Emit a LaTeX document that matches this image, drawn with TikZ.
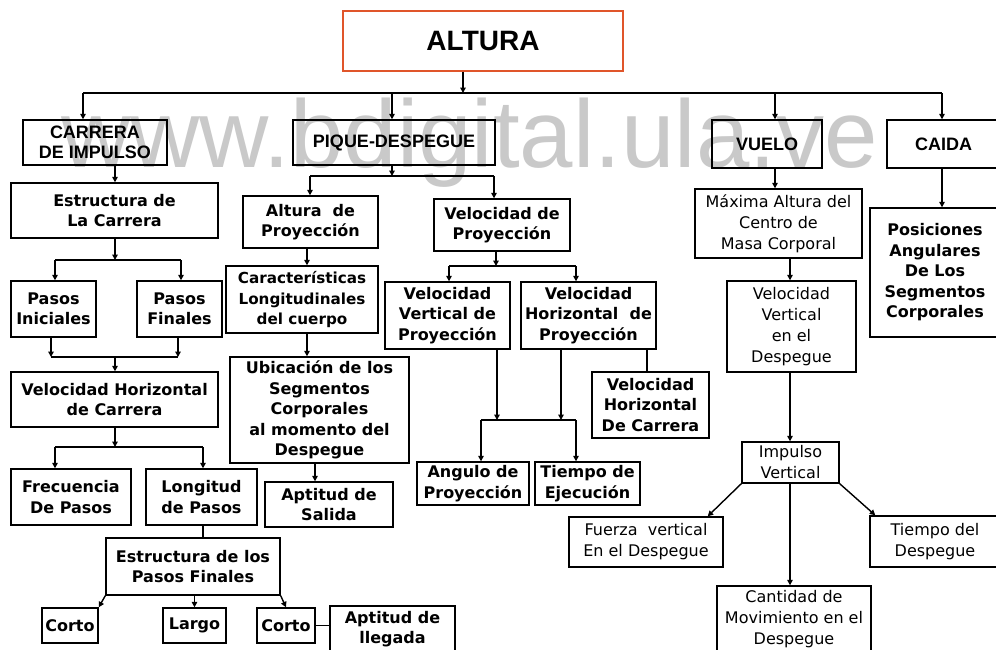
\documentclass[tikz,border=0pt]{standalone}
\usepackage{fontspec}
\usetikzlibrary{arrows.meta,calc}
\newfontfamily\dvsans{DejaVu Sans}
\newfontfamily\lsans{Liberation Sans}
\definecolor{titleedge}{HTML}{E0552A}
\tikzset{
  box/.style={draw=black, line width=1.4pt, inner sep=0pt, align=center, text=black},
  boldbox/.style={box, font=\dvsans\bfseries\fontsize{16}{20.5}\selectfont},
  plainbox/.style={box, font=\dvsans\fontsize{16}{21}\selectfont},
  capbox/.style={box, font=\lsans\bfseries\fontsize{18}{20}\selectfont},
  titlebox/.style={box, draw=titleedge, font=\lsans\bfseries\fontsize{28}{30}\selectfont},
  link/.style={draw=black, line width=1.4pt},
  arr/.style={link, -{Triangle[length=5.5pt,width=5.5pt]}},
  wmark/.style={text=black!21, inner sep=0pt, font=\lsans\fontsize{96}{96}\selectfont}
}
\begin{document}
\begin{tikzpicture}[x=1pt,y=-1pt]
\useasboundingbox (0,0) rectangle (996,649);
\clip (0,0) rectangle (996,649);
\fill[white] (0,0) rectangle (996,649);

% watermark behind everything
\node[wmark, anchor=base west] (wm) at (61,167) {www.bdigital.ula.ve};

% title
\node[titlebox, minimum width=280, minimum height=60] (altura) at (483,41) {ALTURA};

% first level
\node[capbox, minimum width=144, minimum height=45] (carrera) at (95,142.5) {CARRERA\\DE IMPULSO};
\node[capbox, minimum width=202, minimum height=45] (pique) at (394,142.5) {PIQUE-DESPEGUE};
\node[capbox, minimum width=110, minimum height=48] (vuelo) at (767,144) {VUELO};
\node[capbox, minimum width=113, minimum height=48] (caida) at (943.5,144) {CAIDA};

% run-up branch
\node[boldbox, minimum width=207, minimum height=55] (estcar) at (114.5,210.5) {Estructura de\\La Carrera};
\node[boldbox, minimum width=85, minimum height=56] (pasini) at (53.5,309) {Pasos\\Iniciales};
\node[boldbox, minimum width=85, minimum height=56] (pasfin) at (179.5,309) {Pasos\\Finales};
\node[boldbox, minimum width=207, minimum height=55] (velhor) at (114.5,399.5) {Velocidad Horizontal\\de Carrera};
\node[boldbox, minimum width=120, minimum height=56] (frec) at (71,497) {Frecuencia\\De Pasos};
\node[boldbox, minimum width=111, minimum height=56] (longp) at (201.5,497) {Longitud\\de Pasos};
\node[boldbox, minimum width=174, minimum height=57] (estpf) at (193,566.5) {Estructura de los\\Pasos Finales};
\node[boldbox, minimum width=56, minimum height=35] (corto1) at (70,625.5) {Corto};
\node[boldbox, minimum width=63, minimum height=35] (largo) at (194.5,625.5) {Largo};
\node[boldbox, minimum width=58, minimum height=35] (corto2) at (286,625.5) {Corto};
\node[boldbox, minimum width=125, minimum height=46] (aptlleg) at (392.5,629) {Aptitud de\\llegada};

% take-off branch
\node[boldbox, minimum width=135, minimum height=52] (altproy) at (310.5,222) {Altura\ \ de\\Proyección};
\node[boldbox, minimum width=136, minimum height=52] (velproy) at (502,225) {Velocidad de\\Proyección};
\node[boldbox, minimum width=152, minimum height=67, font=\dvsans\bfseries\fontsize{15.2}{20.5}\selectfont] (caract) at (302,299.5) {Características\\Longitudinales\\del cuerpo};
\node[boldbox, minimum width=179, minimum height=106] (ubic) at (319.5,410) {Ubicación de los\\Segmentos\\Corporales\\al momento del\\Despegue};
\node[boldbox, minimum width=128, minimum height=45] (aptsal) at (329,504.5) {Aptitud de\\Salida};
\node[boldbox, minimum width=125, minimum height=67] (vvp) at (447.5,315.5) {Velocidad\\Vertical de\\Proyección};
\node[boldbox, minimum width=135, minimum height=67] (vhp) at (588.5,315.5) {Velocidad\\Horizontal\ \ de\\Proyección};
\node[boldbox, minimum width=117, minimum height=66] (vhdc) at (650.5,405) {Velocidad\\Horizontal\\De Carrera};
\node[boldbox, minimum width=112, minimum height=43] (angulo) at (473,483.5) {Angulo de\\Proyección};
\node[boldbox, minimum width=105, minimum height=43] (tiempoej) at (587.5,483.5) {Tiempo de\\Ejecución};

% flight branch
\node[plainbox, minimum width=167, minimum height=69] (maxima) at (778.5,223.5) {Máxima Altura del\\Centro de\\Masa Corporal};
\node[plainbox, minimum width=129, minimum height=91] (vvd) at (791.5,326.5) {Velocidad\\Vertical\\en el\\Despegue};
\node[plainbox, minimum width=97, minimum height=41] (impulso) at (790.5,462.5) {Impulso\\Vertical};
\node[plainbox, minimum width=154, minimum height=50] (fuerza) at (646,542) {Fuerza\ \ vertical\\En el Despegue};
\node[plainbox, minimum width=130, minimum height=51] (tiempodes) at (935,541.5) {Tiempo del\\Despegue};
\node[plainbox, minimum width=154, minimum height=66] (cantidad) at (794,619) {Cantidad de\\Movimiento en el\\Despegue};

% landing branch
\node[boldbox, minimum width=130, minimum height=129] (posic) at (935,272.5) {Posiciones\\Angulares\\De Los\\Segmentos\\Corporales};

% ---- connectors ----
% main bus
\coordinate (t0) at (463,93);
\coordinate (tL) at (83,93);
\coordinate (tP) at (392,93);
\coordinate (tV) at (775,93);
\coordinate (tR) at (942,93);
\draw[arr] (altura.south -| t0) -- (t0);
\draw[link] (tL) -- (tR);
\draw[arr] (tL) -- (tL |- carrera.north);
\draw[arr] (tP) -- (tP |- pique.north);
\draw[arr] (tV) -- (tV |- vuelo.north);
\draw[arr] (tR) -- (tR |- caida.north);

% run-up branch
\coordinate (c1) at (115,260);
\coordinate (c1L) at (55,260);
\coordinate (c1R) at (181,260);
\draw[arr] (carrera.south -| c1) -- (c1 |- estcar.north);
\draw[arr] (estcar.south -| c1) -- (c1);
\draw[link] (c1L) -- (c1R);
\draw[arr] (c1L) -- (c1L |- pasini.north);
\draw[arr] (c1R) -- (c1R |- pasfin.north);
\coordinate (c2) at (115,357);
\coordinate (c2L) at (51,357);
\coordinate (c2R) at (178,357);
\draw[arr] (pasini.south -| c2L) -- (c2L);
\draw[arr] (pasfin.south -| c2R) -- (c2R);
\draw[link] (c2L) -- (c2R);
\draw[arr] (c2) -- (c2 |- velhor.north);
\coordinate (c3) at (115,447);
\coordinate (c3L) at (55,447);
\coordinate (c3R) at (203,447);
\draw[arr] (velhor.south -| c3) -- (c3);
\draw[link] (c3L) -- (c3R);
\draw[arr] (c3L) -- (c3L |- frec.north);
\draw[arr] (c3R) -- (c3R |- longp.north);
\draw[link] (longp.south -| c3R) -- (c3R |- estpf.north);
\draw[arr] (estpf.south west) -- (corto1.north east);
\draw[arr] (estpf.south -| largo.north) -- (largo.north);
\draw[arr] (estpf.south east) -- (corto2.north);
\draw[link] (corto2.east) -- (corto2.east -| aptlleg.west);

% take-off branch
\coordinate (p1) at (392,176);
\coordinate (p1L) at (310,176);
\coordinate (p1R) at (494,176);
\draw[arr] (pique.south -| p1) -- (p1);
\draw[link] (p1L) -- (p1R);
\draw[arr] (p1L) -- (p1L |- altproy.north);
\draw[arr] (p1R) -- (p1R |- velproy.north);
\coordinate (p2) at (307,0);
\draw[arr] (altproy.south -| p2) -- (p2 |- caract.north);
\draw[arr] (caract.south -| p2) -- (p2 |- ubic.north);
\coordinate (p3) at (315,0);
\draw[arr] (ubic.south -| p3) -- (p3 |- aptsal.north);
\coordinate (v1) at (496,266);
\coordinate (v1L) at (449,266);
\coordinate (v1R) at (576,266);
\draw[arr] (velproy.south -| v1) -- (v1);
\draw[link] (v1L) -- (v1R);
\draw[arr] (v1L) -- (v1L |- vvp.north);
\draw[arr] (v1R) -- (v1R |- vhp.north);
\coordinate (v2a) at (497,420);
\coordinate (v2b) at (561,420);
\coordinate (v2L) at (481,420);
\coordinate (v2R) at (576,420);
\draw[arr] (vvp.south -| v2a) -- (v2a);
\draw[arr] (vhp.south -| v2b) -- (v2b);
\draw[link] (v2L) -- (v2R);
\draw[arr] (v2L) -- (v2L |- angulo.north);
\draw[arr] (v2R) -- (v2R |- tiempoej.north);
\coordinate (v3) at (647,0);
\draw[link] (vhp.south -| v3) -- (v3 |- vhdc.north);

% flight branch
\draw[arr] (vuelo.south -| tV) -- (tV |- maxima.north);
\coordinate (f1) at (790,0);
\draw[arr] (maxima.south -| f1) -- (f1 |- vvd.north);
\draw[arr] (vvd.south -| f1) -- (f1 |- impulso.north);
\draw[arr] (impulso.south west) -- ($(fuerza.north east)+(-16,0)$);
\draw[arr] (impulso.south east) -- ($(tiempodes.north west)+(6,0)$);
\draw[arr] (impulso.south -| f1) -- (f1 |- cantidad.north);

% landing branch
\draw[arr] (caida.south -| tR) -- (tR |- posic.north);
\end{tikzpicture}
\end{document}
